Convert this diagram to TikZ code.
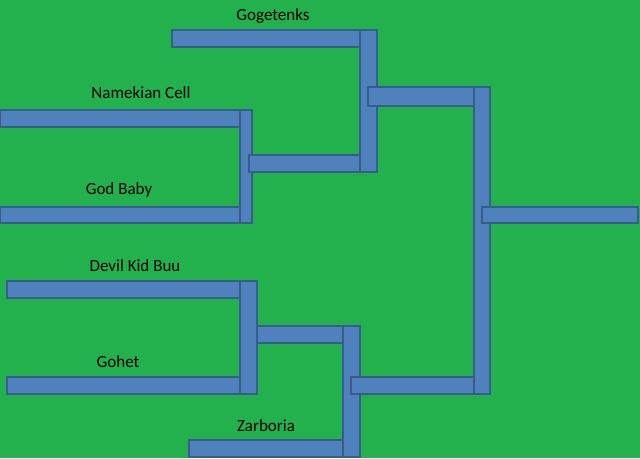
\documentclass[tikz,border=0pt]{standalone}
\usepackage{fontspec}
\setmainfont{Carlito}
\definecolor{bg}{RGB}{35,177,77}
\definecolor{bar}{RGB}{79,129,189}
\definecolor{barline}{RGB}{56,93,138}
\begin{document}
\begin{tikzpicture}[x=1pt,y=-1pt,
  barbox/.style={fill=bar,draw=barline,line width=1.2pt},
  lbl/.style={font=\fontsize{17}{20}\selectfont,text=black}]
\fill[bg] (0,0) rectangle (640,458);
\useasboundingbox (0,0) rectangle (640,458);
% top bracket
\draw[barbox] (172,30) rectangle (377,47);
\draw[barbox] (0,110) rectangle (250,127);
\draw[barbox] (0,207) rectangle (252,223);
\draw[barbox] (240,110) rectangle (252,223);
\draw[barbox] (249,155) rectangle (362,172);
\draw[barbox] (360,30) rectangle (377,172);
\draw[barbox] (368,87) rectangle (490,106);
% bottom bracket
\draw[barbox] (7,281) rectangle (257,298);
\draw[barbox] (7,377) rectangle (257,394);
\draw[barbox] (240,281) rectangle (257,394);
\draw[barbox] (257,326) rectangle (358,343);
\draw[barbox] (189,440) rectangle (360,457);
\draw[barbox] (343,326) rectangle (360,457);
\draw[barbox] (351,377) rectangle (490,394);
\draw[barbox] (474,87) rectangle (490,394);
\draw[barbox] (482,207) rectangle (638,223);
% labels
\node[lbl] (l1) at (273,16) {Gogetenks};
\node[lbl] (l2) at (141,93) {Namekian Cell};
\node[lbl] (l3) at (119,190) {God Baby};
\node[lbl] (l4) at (135,266) {Devil Kid Buu};
\node[lbl] (l5) at (118,362) {Gohet};
\node[lbl] (l6) at (266,426) {Zarboria};
\end{tikzpicture}
\end{document}
